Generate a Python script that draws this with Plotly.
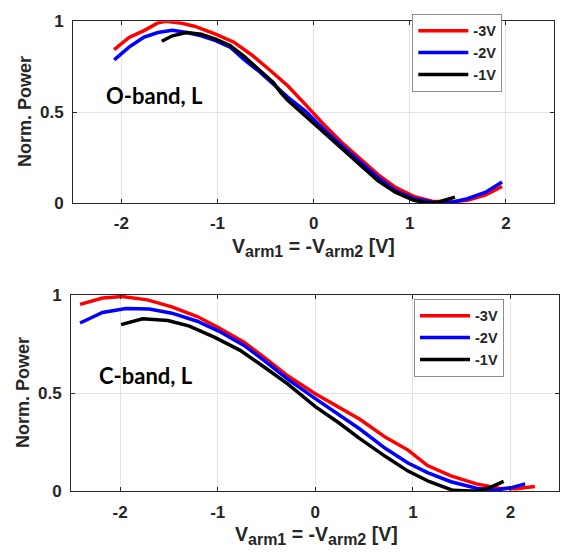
import plotly.graph_objects as go

# ---------------- data ----------------
labels = ["-3V", "-2V", "-1V"]
colors = ["#ff0000", "#0000ff", "#000000"]

# O-band (top)
o_x_3 = [-2.075, -1.92, -1.77, -1.62, -1.54, -1.39, -1.24, -1.02, -0.83, -0.64, -0.46, -0.27, -0.08, 0.105, 0.29, 0.48, 0.67, 0.85, 1.04, 1.23, 1.42, 1.60, 1.79, 1.96]
o_y_3 = [0.844, 0.911, 0.947, 0.991, 1.0, 0.991, 0.973, 0.929, 0.885, 0.813, 0.733, 0.645, 0.538, 0.432, 0.334, 0.245, 0.156, 0.085, 0.036, 0.009, 0.005, 0.014, 0.044, 0.09]
o_x_2 = [-2.075, -1.92, -1.77, -1.62, -1.47, -1.32, -1.17, -1.02, -0.87, -0.72, -0.57, -0.42, -0.27, -0.08, 0.105, 0.29, 0.48, 0.67, 0.85, 1.04, 1.23, 1.30, 1.45, 1.60, 1.79, 1.96]
o_y_2 = [0.787, 0.858, 0.911, 0.938, 0.950, 0.938, 0.92, 0.893, 0.858, 0.787, 0.725, 0.654, 0.583, 0.503, 0.405, 0.316, 0.227, 0.139, 0.067, 0.023, 0.005, 0.0, 0.005, 0.023, 0.059, 0.115]
o_x_1 = [-1.58, -1.47, -1.32, -1.17, -1.02, -0.87, -0.72, -0.57, -0.42, -0.34, -0.27, -0.08, 0.105, 0.29, 0.48, 0.67, 0.85, 1.04, 1.19, 1.30, 1.47]
o_y_1 = [0.89, 0.92, 0.938, 0.929, 0.902, 0.867, 0.805, 0.734, 0.663, 0.606, 0.565, 0.476, 0.387, 0.298, 0.21, 0.121, 0.059, 0.014, 0.0, 0.005, 0.032]

# C-band (bottom)
c_x_3 = [-2.41, -2.18, -1.98, -1.72, -1.47, -1.21, -0.99, -0.73, -0.51, -0.28, 0.0, 0.24, 0.46, 0.72, 0.95, 1.15, 1.39, 1.65, 1.88, 2.06, 2.25]
c_y_3 = [0.952, 0.984, 0.992, 0.975, 0.939, 0.890, 0.833, 0.759, 0.677, 0.587, 0.497, 0.431, 0.366, 0.275, 0.21, 0.131, 0.079, 0.038, 0.016, 0.013, 0.025]
c_x_2 = [-2.41, -2.18, -1.94, -1.70, -1.47, -1.21, -0.99, -0.73, -0.51, -0.28, 0.0, 0.24, 0.46, 0.72, 0.95, 1.15, 1.39, 1.65, 1.84, 2.02, 2.15]
c_y_2 = [0.857, 0.911, 0.931, 0.928, 0.907, 0.866, 0.816, 0.743, 0.661, 0.570, 0.472, 0.39, 0.316, 0.218, 0.144, 0.095, 0.049, 0.016, 0.005, 0.02, 0.038]
c_x_1 = [-1.99, -1.77, -1.51, -1.29, -1.03, -0.77, -0.51, -0.28, 0.0, 0.24, 0.46, 0.72, 0.95, 1.17, 1.41, 1.65, 1.80, 1.93]
c_y_1 = [0.849, 0.879, 0.870, 0.841, 0.784, 0.718, 0.628, 0.546, 0.431, 0.349, 0.267, 0.177, 0.103, 0.049, 0.005, 0.0, 0.021, 0.051]

x_ticks = [-2, -1, 0, 1, 2]
x_ticklabels = ["-2", "-1", "0", "1", "2"]
y_ticks = [0, 0.5, 1]
y_ticklabels = ["0", "0.5", "1"]

# ---------------- figure ----------------
W, H = 565, 559
fig = go.Figure()

top = [(o_x_3, o_y_3), (o_x_2, o_y_2), (o_x_1, o_y_1)]
bot = [(c_x_3, c_y_3), (c_x_2, c_y_2), (c_x_1, c_y_1)]

for (xs, ys), lab, col in zip(top, labels, colors):
    fig.add_trace(go.Scatter(x=xs, y=ys, mode="lines", name=lab,
                             line=dict(color=col, width=3.5),
                             xaxis="x", yaxis="y", legend="legend"))
for (xs, ys), lab, col in zip(bot, labels, colors):
    fig.add_trace(go.Scatter(x=xs, y=ys, mode="lines", name=lab,
                             line=dict(color=col, width=3.5),
                             xaxis="x2", yaxis="y2", legend="legend2"))

tick_font = dict(family="Liberation Sans, Arial", size=17, color="#262626", weight="bold")

def xax(domain, anchor):
    return dict(domain=domain, anchor=anchor, range=[-2.5, 2.5],
                tickvals=x_ticks, ticktext=x_ticklabels, tickfont=tick_font,
                showgrid=True, gridcolor="#e3e3e3", gridwidth=1,
                zeroline=False, showline=True, linecolor="#262626", linewidth=1.3,
                mirror="ticks", ticks="inside", ticklen=4, tickcolor="#262626",
                ticklabelstandoff=5)

def yax(domain, anchor):
    return dict(domain=domain, anchor=anchor, range=[0, 1],
                tickvals=y_ticks, ticktext=y_ticklabels, tickfont=tick_font,
                showgrid=True, gridcolor="#e3e3e3", gridwidth=1,
                zeroline=False, showline=True, linecolor="#262626", linewidth=1.3,
                mirror="ticks", ticks="inside", ticklen=4, tickcolor="#262626",
                ticklabelstandoff=5)

def px(x):
    return x / W

def py(y):
    return 1 - y / H

legend_common = dict(bgcolor="white", bordercolor="#8c8c8c", borderwidth=1,
                     font=dict(family="Liberation Sans, Arial", size=14.5, color="#262626", weight="bold"),
                     xanchor="left", yanchor="top", tracegroupgap=0, itemwidth=50)

fig.update_layout(
    width=W, height=H,
    margin=dict(l=0, r=0, t=0, b=0),
    paper_bgcolor="white", plot_bgcolor="white",
    xaxis=xax([px(73.3), px(554)], "y"),
    yaxis=yax([py(200.7), py(12.7)], "x"),
    xaxis2=xax([px(71.3), px(559.3)], "y2"),
    yaxis2=yax([py(499.3), py(296)], "x2"),
    legend=dict(x=px(412.3), y=py(5), **legend_common),
    legend2=dict(x=px(414), y=py(300), **legend_common),
    showlegend=True,
)

ann_font = dict(family="Liberation Sans, Arial", size=19.5, color="#262626", weight="bold")
ytitle_font = dict(family="Liberation Sans, Arial", size=18, color="#262626", weight="bold")
label_font = dict(family="Lato, Open Sans", size=22, color="black", weight="bold")

xtitle = ("V<sub><span style='font-size:16px'>arm1</span></sub> = "
          "-V<sub><span style='font-size:16px'>arm2</span></sub> [V]")

annotations = [
    dict(text="Norm. Power", x=px(25), y=py(106.7), textangle=-90, font=ytitle_font),
    dict(text="Norm. Power", x=px(23), y=py(397.6), textangle=-90, font=ytitle_font),
    dict(text=xtitle, x=px(313), y=py(247), font=ann_font),
    dict(text=xtitle, x=px(316), y=py(545), font=ann_font),
    dict(text="O-band, L", x=px(104), y=py(90), xanchor="left", font=label_font),
    dict(text="C-band, L", x=px(97), y=py(379), xanchor="left", font=label_font),
]
for a in annotations:
    a.setdefault("xanchor", "center")
    a.update(xref="paper", yref="paper", yanchor="middle", showarrow=False)
fig.update_layout(annotations=annotations)

fig.write_html("out.html")
